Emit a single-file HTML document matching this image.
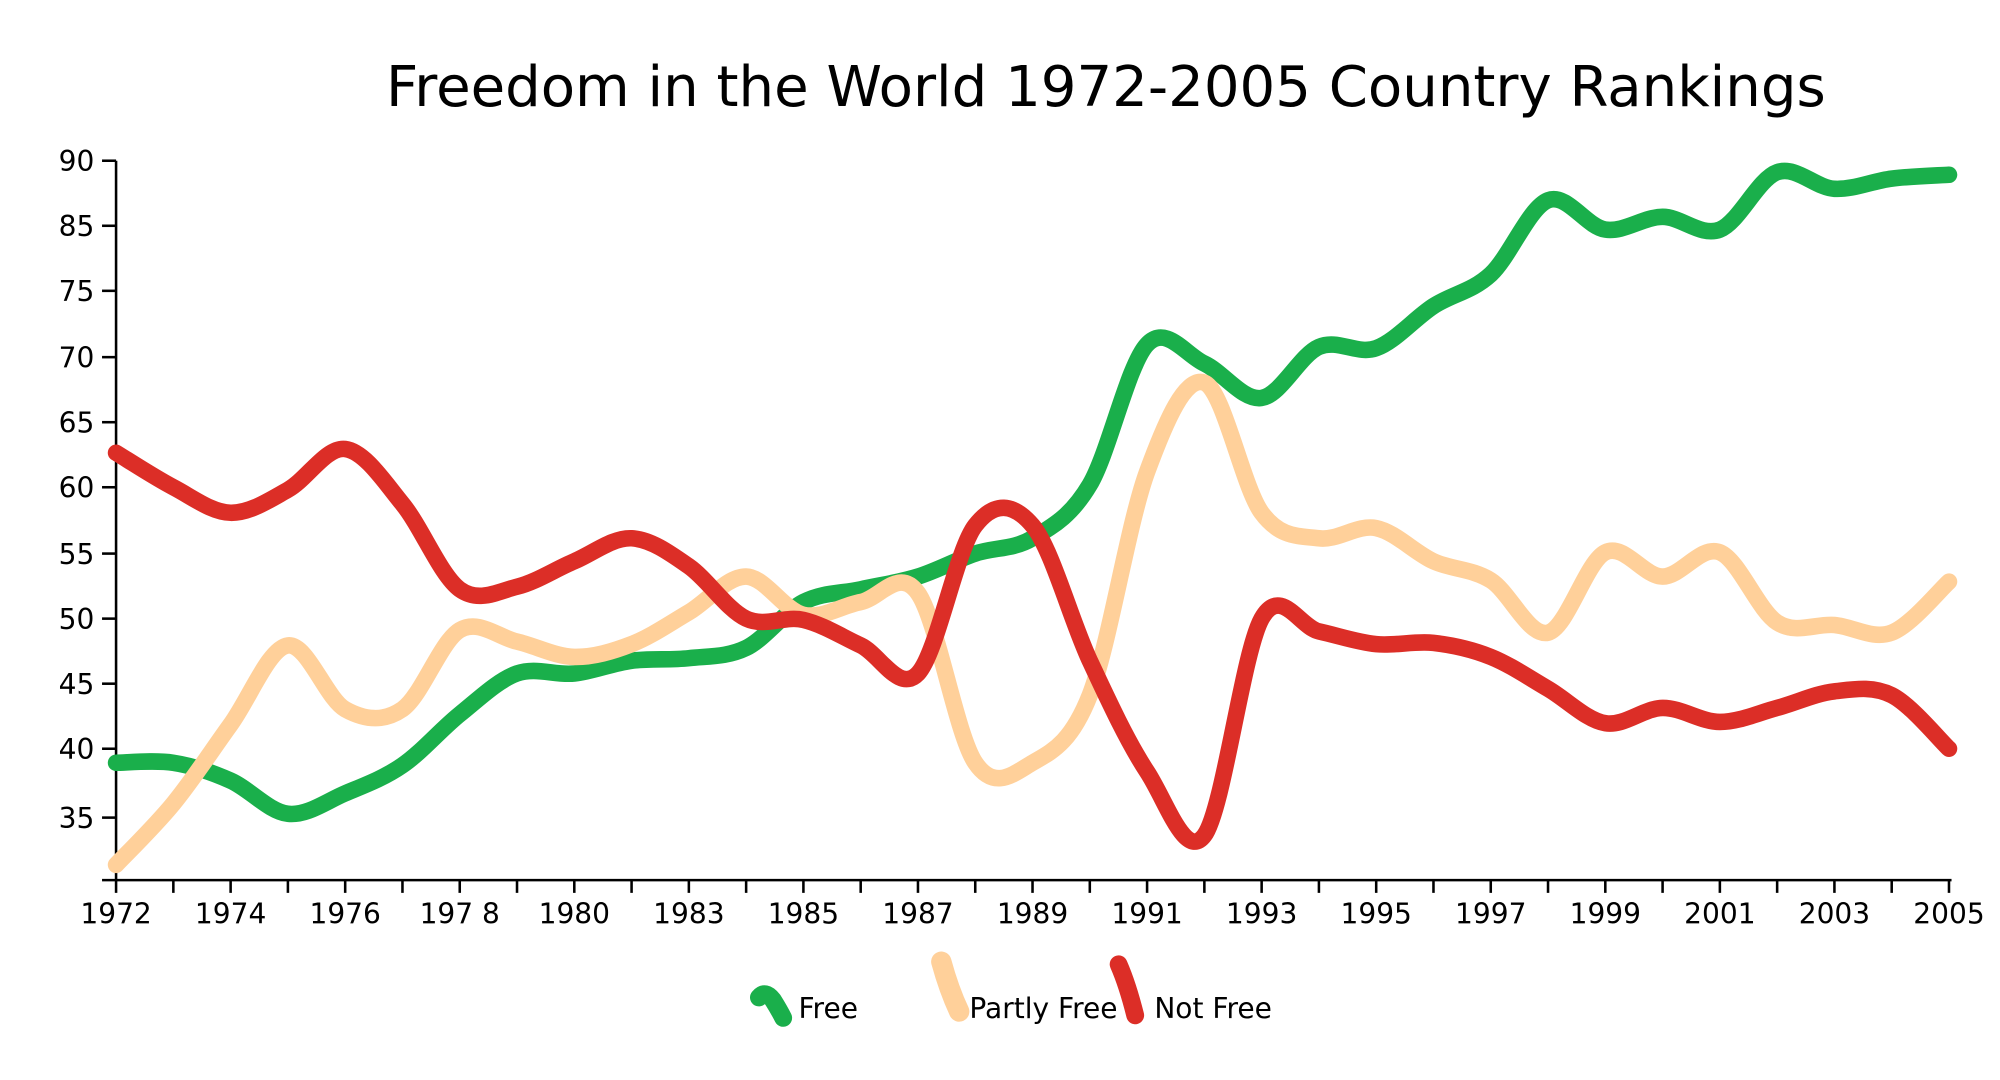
<!DOCTYPE html>
<html><head><meta charset="utf-8"><style>html,body{margin:0;padding:0;background:#fff}svg{display:block}</style></head>
<body>
<svg id="s" width="2000" height="1080" viewBox="0 0 1568 846.7" xmlns="http://www.w3.org/2000/svg" font-family="DejaVu Sans, Liberation Sans, sans-serif">
<rect width="1568" height="846.7" fill="#fff"/>
<text x="867" y="83" font-size="44" text-anchor="middle" fill="#000">Freedom in the World 1972-2005 Country Rankings</text>
<g id="axes" stroke="#000" stroke-width="2" fill="none">
<line x1="91" y1="126" x2="91" y2="690"/>
<line x1="80" y1="690" x2="1530" y2="690"/>
</g>
<g id="yl" font-size="22" text-anchor="end" fill="#000"></g>
<g id="xl" font-size="22" text-anchor="middle" fill="#000"></g>
<g id="lines" fill="none" stroke-width="13" stroke-linecap="round" stroke-linejoin="round"></g>
<g font-size="22" fill="#000">
<path d="M595,782 Q600,776 606,784 Q611,792 614,798" stroke="#1aaf4b" stroke-width="14" fill="none" stroke-linecap="round"/>
<text x="626" y="798">Free</text>
<path d="M738,754 Q744,776 752,793" stroke="#ffd09a" stroke-width="16" fill="none" stroke-linecap="round"/>
<text x="760" y="798">Partly Free</text>
<path d="M877,756 Q884,772 890,796" stroke="#dc2e27" stroke-width="14" fill="none" stroke-linecap="round"/>
<text x="905" y="798">Not Free</text>
</g>
</svg>
<script>
var NS="http://www.w3.org/2000/svg";
function el(t,a,p,txt){var e=document.createElementNS(NS,t);for(var k in a)e.setAttribute(k,a[k]);if(txt)e.textContent=txt;document.getElementById(p).appendChild(e);return e;}
var yv=[[90,126],[85,177],[75,228],[70,280],[65,331],[60,382],[55,434],[50,485],[45,536],[40,587],[35,641]];
yv.forEach(function(v){el('text',{x:74,y:v[1]+8},'yl',String(v[0]));el('line',{x1:80,y1:v[1],x2:91,y2:v[1],stroke:'#000','stroke-width':2},'axes');});
for(var i=0;i<=32;i++){var x=91+i*(1437/32);el('line',{x1:x,y1:690,x2:x,y2:700,stroke:'#000','stroke-width':2},'axes');}
var xl=["1972","1974","1976","197 8","1980","1983","1985","1987","1989","1991","1993","1995","1997","1999","2001","2003","2005"];
xl.forEach(function(t,i){el('text',{x:91+i*(1437/16),y:724},'xl',t);});
var X=[];for(var i=0;i<=32;i++)X.push(91+i*(1437/32));
var G=[598,598,612,638,622,600,560,528,528,518,516,508,472,462,452,434,422,380,270,285,312,272,273,240,215,157,180,170,180,135,148,140,137];
var P=[678,630,568,506,556,556,494,503,515,505,480,452,482,472,465,598,598,545,370,300,402,422,414,440,455,496,433,452,433,488,490,496,456];
var R=[355,382,402,384,352,395,462,460,440,422,444,485,486,506,528,412,412,518,605,655,485,495,505,504,515,540,567,555,566,555,542,545,587];
function path(Y){var pts=Y.map(function(y,i){return [X[i],y];});var d="M"+pts[0][0]+","+pts[0][1];
for(var i=0;i<pts.length-1;i++){var p0=pts[Math.max(0,i-1)],p1=pts[i],p2=pts[i+1],p3=pts[Math.min(pts.length-1,i+2)];
var c1=[p1[0]+(p2[0]-p0[0])/6,p1[1]+(p2[1]-p0[1])/6],c2=[p2[0]-(p3[0]-p1[0])/6,p2[1]-(p3[1]-p1[1])/6];
d+=" C"+c1[0].toFixed(1)+","+c1[1].toFixed(1)+" "+c2[0].toFixed(1)+","+c2[1].toFixed(1)+" "+p2[0].toFixed(1)+","+p2[1];}
return d;}
el('path',{d:path(G),stroke:'#1aaf4b'},'lines');
el('path',{d:path(P),stroke:'#ffd09a'},'lines');
el('path',{d:path(R),stroke:'#dc2e27'},'lines');
</script>
</body></html>
